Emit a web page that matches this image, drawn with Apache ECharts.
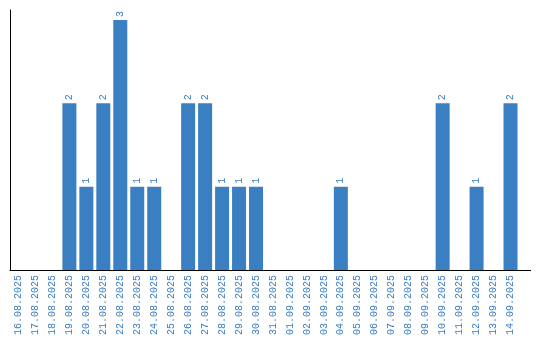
<!DOCTYPE html>
<html>
<head>
<meta charset="utf-8">
<script src="https://cdn.jsdelivr.net/npm/echarts@6/dist/echarts.min.js"></script>
<style>html,body{margin:0;padding:0;background:#fff}#c{width:540px;height:340px}</style>
</head>
<body>
<div id="c"></div>
<script>
var categories = ["16.08.2025","17.08.2025","18.08.2025","19.08.2025","20.08.2025","21.08.2025","22.08.2025","23.08.2025","24.08.2025","25.08.2025","26.08.2025","27.08.2025","28.08.2025","29.08.2025","30.08.2025","31.08.2025","01.09.2025","02.09.2025","03.09.2025","04.09.2025","05.09.2025","06.09.2025","07.09.2025","08.09.2025","09.09.2025","10.09.2025","11.09.2025","12.09.2025","13.09.2025","14.09.2025"];
var values = [0,0,0,2,1,2,3,1,1,0,2,2,1,1,1,0,0,0,0,1,0,0,0,0,0,2,0,1,0,2];
var barColor = '#3b7fc3';
var textColor = '#3a7cc0';
var chart = echarts.init(document.getElementById('c'), null, {renderer:'canvas'});
chart.setOption({
  animation: false,
  grid: {left: 10, right: 21, top: 10, bottom: 70},
  graphic: [{
    type: 'line', z: 10,
    shape: {x1: 518, y1: 270.5, x2: 531, y2: 270.5},
    style: {stroke: '#000', lineWidth: 1}
  }],
  xAxis: {
    type: 'category',
    data: categories,
    axisLine: {lineStyle: {color: '#000', width: 1}},
    axisTick: {show: false},
    axisLabel: {rotate: 90, interval: 0, color: textColor, fontFamily: 'Liberation Mono', fontSize: 10, margin: 5}
  },
  yAxis: {
    type: 'value',
    min: 0,
    max: 3.12,
    axisLine: {show: true, lineStyle: {color: '#000', width: 1}},
    axisTick: {show: false},
    axisLabel: {show: false},
    splitLine: {show: false}
  },
  series: [{
    type: 'bar',
    data: values.map(function(v){ return v === 0 ? null : v; }),
    barWidth: 14,
    itemStyle: {color: barColor},
    label: {show: true, position: 'top', rotate: 90, align: 'left', verticalAlign: 'middle', distance: 3, color: textColor, fontFamily: 'Liberation Mono', fontSize: 10}
  }]
});
</script>
</body>
</html>
